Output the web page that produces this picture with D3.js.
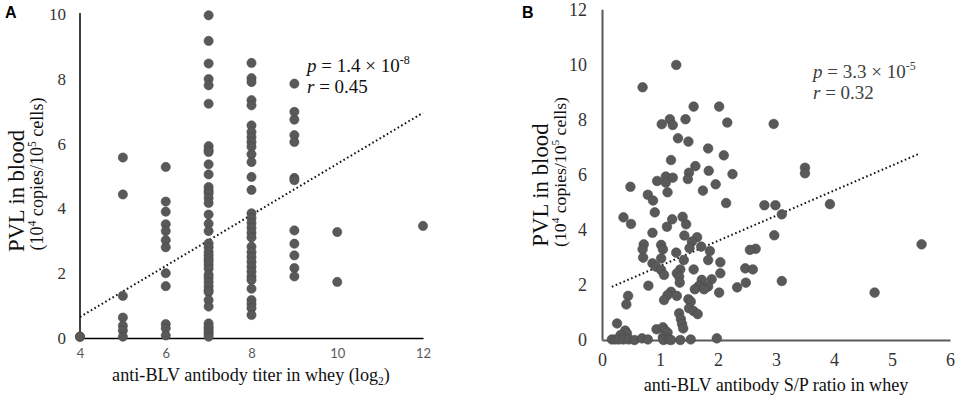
<!DOCTYPE html>
<html>
<head>
<meta charset="utf-8">
<script src="https://cdn.jsdelivr.net/npm/d3@7"></script>
<style>
  body { margin: 0; background: #fff; }
  svg { display: block; }
</style>
</head>
<body>
<div class="canvas"></div>
<script>
// panel A: PVL grouped by whey titer (log2)
const titerLevels = [4, 5, 6, 7, 8, 9, 10, 12];
const pvlByTiter = [
  [0.03, 0.05],
  [5.57, 4.43, 1.3, 0.63, 0.38, 0.23, 0.04],
  [5.28, 4.21, 3.9, 3.51, 3.3, 3.02, 2.8, 2.0, 1.6, 0.43, 0.3, 0.08],
  [9.96, 9.17, 8.47, 7.99, 7.8, 7.23, 5.92, 5.8, 5.74, 5.36, 5.05, 4.66, 4.55, 4.47, 4.32, 4.17,
   3.81, 3.53, 3.3, 2.92, 2.8, 2.66, 2.55, 2.45, 2.36, 2.25, 2.14, 1.95, 1.85, 1.73, 1.6, 1.48,
   1.42, 1.17, 0.97, 0.45, 0.35, 0.29, 0.2, 0.13, 0.04],
  [8.49, 8.02, 7.9, 7.34, 7.18, 6.56, 6.36, 6.2, 6.05, 5.9, 5.67, 5.43, 4.97, 4.57, 3.85, 3.7,
   3.55, 3.4, 3.25, 3.1, 2.82, 2.65, 2.5, 2.35, 2.2, 2.05, 1.9, 1.79, 1.52, 1.17, 1.05, 0.92, 0.71],
  [7.85, 6.98, 6.74, 6.26, 6.05, 4.94, 4.87, 3.32, 2.91, 2.55, 2.16, 1.9],
  [3.27, 1.73],
  [3.46]
];
const trendA = [[4, 0.65], [12, 6.95]];
const xTicksA = [4, 6, 8, 10, 12];
const yTicksA = [0, 2, 4, 6, 8, 10];

// panel B: PVL vs S/P ratio
const spRatio = [1.28, 0.70, 1.58, 2.02, 1.44, 1.17, 1.03, 1.22, 2.16, 2.96,
  1.31, 1.49, 1.83, 2.10, 1.19, 1.61, 3.50, 3.50, 1.84, 1.50,
  2.25, 1.48, 1.10, 1.22, 0.95, 1.10, 1.96, 0.49, 1.74, 1.13,
  0.79, 0.88, 2.14, 2.80, 2.99, 3.93, 0.91, 3.10, 0.37, 1.39,
  1.21, 0.50, 1.45, 1.12, 0.87, 1.42, 2.97, 1.64, 1.55, 0.72,
  1.02, 1.71, 1.51, 0.70, 1.05, 2.65, 2.55, 1.86, 1.28, 5.51,
  0.71, 1.02, 1.41, 1.83, 2.04, 0.87, 0.93, 1.02, 1.35, 1.58,
  2.47, 2.60, 1.07, 1.29, 2.04, 1.33, 1.72, 1.89, 1.34, 3.10,
  0.80, 1.67, 1.83, 2.48, 2.33, 1.60, 1.76, 2.02, 4.70, 1.19,
  1.13, 1.29, 0.45, 1.07, 1.49, 1.53, 0.42, 1.50, 1.58, 1.65,
  1.33, 1.36, 1.38, 0.26, 0.40, 0.43, 0.94, 1.05, 1.09, 1.13,
  1.40, 0.32, 0.17, 0.23, 0.29, 0.37, 0.46, 0.56, 0.69, 0.79,
  1.05, 1.06, 1.15, 1.19, 1.35, 1.53, 1.98];
const pvlB = [9.98, 9.17, 8.47, 8.47, 8.01, 8.01, 7.83, 7.80, 7.89, 7.84,
  7.32, 7.20, 6.95, 6.70, 6.53, 6.31, 6.25, 6.05, 6.14, 6.07,
  6.02, 5.84, 5.93, 5.89, 5.77, 5.71, 5.65, 5.56, 5.42, 5.36,
  5.27, 5.06, 4.97, 4.89, 4.89, 4.93, 4.63, 4.56, 4.45, 4.47,
  4.38, 4.21, 4.20, 4.11, 3.89, 3.79, 3.80, 3.73, 3.57, 3.47,
  3.45, 3.39, 3.33, 3.29, 3.29, 3.31, 3.27, 3.23, 3.17, 3.47,
  2.99, 2.96, 2.90, 2.90, 2.82, 2.78, 2.66, 2.54, 2.56, 2.56,
  2.60, 2.56, 2.36, 2.42, 2.42, 2.30, 2.18, 2.20, 2.08, 2.14,
  1.97, 1.96, 1.94, 2.08, 1.91, 1.84, 1.84, 1.72, 1.72, 1.75,
  1.63, 1.60, 1.60, 1.45, 1.48, 1.39, 1.29, 1.15, 1.05, 0.94,
  0.97, 0.76, 0.58, 0.60, 0.34, 0.24, 0.39, 0.46, 0.34, 0.27,
  0.42, 0.18, 0.02, 0.02, 0.02, 0.02, 0.02, 0.0, 0.06, 0.02,
  0.10, 0.0, 0.02, 0.0, 0.0, 0.02, 0.06];
const trendB = [[0.17, 1.93], [5.48, 6.77]];
const xTicksB = [0, 1, 2, 3, 4, 5, 6];
const yTicksB = [0, 2, 4, 6, 8, 10, 12];

const serif = '"Liberation Serif", "Times New Roman", Times, serif';
const dotFill = '#595959';

const svg = d3.select('.canvas').append('svg')
    .attr('width', 957)
    .attr('height', 397);

// shrink/grow a title so it spans the same width as in the figure
const fitWidth = (sel, target) => {
    const w = sel.node().getComputedTextLength();
    if (w > 0) {
        const k = Math.max(0.85, Math.min(1.2, target / w));
        sel.attr('font-size', 19 * k);
        sel.selectAll('tspan.small').attr('font-size', 12 * k);
    }
};

const yTitle = (g, x1, y1, x2, y2, w1, w2) => {
    const a = g.append('text').attr('font-family', serif).attr('font-size', 19).attr('fill', '#111')
        .attr('transform', `translate(${x1},${y1}) rotate(-90)`).attr('text-anchor', 'middle')
        .text('PVL in blood');
    fitWidth(a, w1);
    const t = g.append('text').attr('font-family', serif).attr('font-size', 19).attr('fill', '#111')
        .attr('transform', `translate(${x2},${y2}) rotate(-90)`).attr('text-anchor', 'middle');
    t.append('tspan').text('(10');
    t.append('tspan').attr('class', 'small').attr('font-size', 12).attr('dy', -7).text('4');
    t.append('tspan').attr('dy', 7).text(' copies/10');
    t.append('tspan').attr('class', 'small').attr('font-size', 12).attr('dy', -7).text('5');
    t.append('tspan').attr('dy', 7).text(' cells)');
    fitWidth(t, w2);
};

const stats = (g, x, y, pText, exp, rText, fill) => {
    const a = g.append('text').attr('font-family', serif).attr('font-size', 19).attr('fill', fill)
        .attr('x', x).attr('y', y);
    a.append('tspan').attr('font-style', 'italic').text('p');
    a.append('tspan').text(' = ' + pText + ' × 10');
    a.append('tspan').attr('font-size', 12).attr('dy', -8).text(exp);
    const b = g.append('text').attr('font-family', serif).attr('font-size', 19).attr('fill', fill)
        .attr('x', x).attr('y', y + 21);
    b.append('tspan').attr('font-style', 'italic').text('r');
    b.append('tspan').text(' = ' + rText);
};

// ---------- panel A
const xA = d3.scaleLinear().domain([4, 12]).range([80, 423]);
const yA = d3.scaleLinear().domain([0, 10]).range([338, 14]);

const pointsA = titerLevels.flatMap((t, i) => pvlByTiter[i].map(v => ({ x: t, y: v })));

const gA = svg.append('g');

gA.append('g')
    .attr('transform', 'translate(0,' + yA(0) + ')')
    .call(d3.axisBottom(xA).tickValues(xTicksA).tickSize(0).tickPadding(11).tickFormat(d3.format('d')))
    .call(g => g.select('.domain').attr('stroke', '#000').attr('stroke-width', 1.5))
    .call(g => g.selectAll('text').attr('font-family', 'Lato, "Open Sans", sans-serif').attr('font-size', 13).attr('fill', '#595959'));

gA.append('g')
    .attr('transform', 'translate(' + xA(4) + ',0)')
    .call(d3.axisLeft(yA).tickValues(yTicksA).tickSize(0).tickPadding(14))
    .call(g => g.select('.domain').attr('stroke', '#000').attr('stroke-width', 1.5).attr('d', `M0,${yA(0)}V13`))
    .call(g => g.selectAll('text').attr('font-family', serif).attr('font-size', 17).attr('fill', '#333'));

gA.append('line')
    .attr('x1', xA(trendA[0][0])).attr('y1', yA(trendA[0][1]))
    .attr('x2', xA(trendA[1][0])).attr('y2', yA(trendA[1][1]))
    .attr('stroke', '#111').attr('stroke-width', 2).attr('stroke-dasharray', '1.6,2.6');

gA.selectAll('circle')
    .data(pointsA)
    .enter()
    .append('circle')
    .attr('r', 4.6)
    .attr('cx', d => xA(d.x))
    .attr('cy', d => yA(d.y))
    .attr('fill', dotFill)
    .attr('stroke', '#4a4a4a')
    .attr('stroke-width', 0.6);

stats(gA, 307, 72, '1.4', '-8', '0.45', '#111');

const titleA = gA.append('text').attr('font-family', serif).attr('font-size', 19).attr('fill', '#111')
    .attr('x', 251).attr('y', 381).attr('text-anchor', 'middle');
titleA.append('tspan').text('anti-BLV antibody titer in whey (log');
titleA.append('tspan').attr('class', 'small').attr('font-size', 12).attr('dy', 4).text('2');
titleA.append('tspan').attr('dy', -4).text(')');
fitWidth(titleA, 278);

yTitle(gA, 24, 191, 43, 174, 122, 153);

gA.append('text').attr('x', 5).attr('y', 18)
    .attr('font-family', '"Liberation Sans", Arial, sans-serif').attr('font-weight', 'bold')
    .attr('font-size', 16).text('A');

// ---------- panel B
const xB = d3.scaleLinear().domain([0, 6]).range([602, 950]);
const yB = d3.scaleLinear().domain([0, 12]).range([340, 9.3]);

const pointsB = spRatio.map((s, i) => ({ x: s, y: pvlB[i] }));

const gB = svg.append('g');

gB.append('g')
    .attr('transform', 'translate(0,' + yB(0) + ')')
    .call(d3.axisBottom(xB).tickValues(xTicksB).tickSize(0).tickPadding(13).tickFormat(d3.format('d')))
    .call(g => g.select('.domain').attr('stroke', '#595959').attr('stroke-width', 2))
    .call(g => g.selectAll('text').attr('font-family', serif).attr('font-size', 18).attr('fill', '#333'));

gB.append('g')
    .attr('transform', 'translate(' + xB(0) + ',0)')
    .call(d3.axisLeft(yB).tickValues(yTicksB).tickSize(0).tickPadding(15))
    .call(g => g.select('.domain').attr('stroke', '#595959').attr('stroke-width', 2))
    .call(g => g.selectAll('text').attr('font-family', serif).attr('font-size', 18).attr('fill', '#333'));

gB.append('line')
    .attr('x1', xB(trendB[0][0])).attr('y1', yB(trendB[0][1]))
    .attr('x2', xB(trendB[1][0])).attr('y2', yB(trendB[1][1]))
    .attr('stroke', '#111').attr('stroke-width', 2).attr('stroke-dasharray', '1.6,2.6');

gB.selectAll('circle')
    .data(pointsB)
    .enter()
    .append('circle')
    .attr('r', 4.8)
    .attr('cx', d => xB(d.x))
    .attr('cy', d => yB(d.y))
    .attr('fill', dotFill)
    .attr('stroke', '#4a4a4a')
    .attr('stroke-width', 0.6);

stats(gB, 813, 78, '3.3', '-5', '0.32', '#404040');

const titleB = gB.append('text').attr('font-family', serif).attr('font-size', 19).attr('fill', '#111')
    .attr('x', 776).attr('y', 391).attr('text-anchor', 'middle')
    .text('anti-BLV antibody S/P ratio in whey');
fitWidth(titleB, 265);

yTitle(gB, 548, 185, 566, 172, 124, 150);

gB.append('text').attr('x', 522).attr('y', 18)
    .attr('font-family', '"Liberation Sans", Arial, sans-serif').attr('font-weight', 'bold')
    .attr('font-size', 16).text('B');
</script>
</body>
</html>
